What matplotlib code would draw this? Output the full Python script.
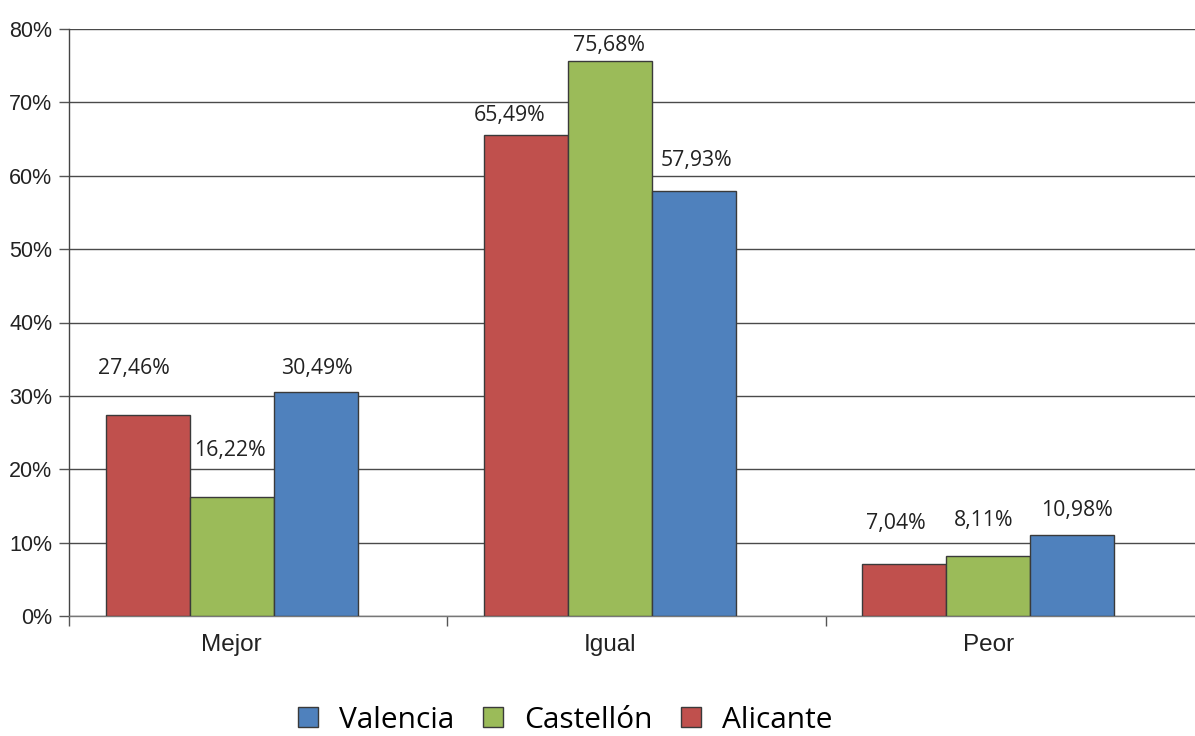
import numpy as np
import matplotlib.pyplot as plt
from matplotlib.patches import Patch
from matplotlib.ticker import FixedLocator

# data
categories = ["Mejor", "Igual", "Peor"]
alicante = [27.46, 65.49, 7.04]
castellon = [16.22, 75.68, 8.11]
valencia = [30.49, 57.93, 10.98]
series_names = ["Alicante", "Castellón", "Valencia"]
yticks = [0, 10, 20, 30, 40, 50, 60, 70, 80]

colors = ["#C0504D", "#9BBB59", "#4F81BD"]
edge = "#3a3a3a"

# label offsets in pixels (dx, dy) from the top centre of each bar
label_offsets = [
    [(-14, 46), (-2, 46), (1, 24)],
    [(-16, 20), (-1, 15), (2, 30)],
    [(-9, 41), (-5, 36), (5, 25)],
]

W, H = 1195, 736
fig = plt.figure(figsize=(W / 100, H / 100), dpi=100)
ax = fig.add_axes([69 / W, (H - 616) / H, (1204 - 69) / W, (616 - 29) / H])

bw = 0.222
start = 0.097
x = np.arange(len(categories))
all_series = [alicante, castellon, valencia]

for j, vals in enumerate(all_series):
    xpos = x + start + bw * (j + 0.5)
    ax.bar(xpos, vals, width=bw, color=colors[j], edgecolor=edge,
           linewidth=1.0, zorder=3)
    for i, v in enumerate(vals):
        dx, dy = label_offsets[i][j]
        ax.annotate(f"{v:.2f}%".replace(".", ","), (xpos[i], v),
                    xytext=(dx, dy), textcoords="offset pixels",
                    ha="center", va="center", fontsize=15.3,
                    family="Open Sans", color="#222222")

ax.set_xlim(0, 3)
ax.set_ylim(0, 80)

ax.set_yticks(yticks)
ax.set_yticklabels([f"{t}%" for t in yticks], family="Liberation Sans",
                   fontsize=15.5, color="#222222")
ax.yaxis.grid(True, color="#4a4a4a", linewidth=1.0, zorder=0)

centers = x + start + bw * 1.5
ax.set_xticks(centers)
ax.set_xticklabels(categories, family="Liberation Sans", fontsize=17.5,
                   color="#222222")
ax.xaxis.set_minor_locator(FixedLocator([0, 1, 2, 3]))
ax.tick_params(axis="x", which="major", length=0, pad=13)
ax.tick_params(axis="x", which="minor", length=7, width=1, color="#555555",
               direction="out")
ax.tick_params(axis="y", length=7, width=1, color="#555555", pad=5)

for s in ["top", "right"]:
    ax.spines[s].set_visible(False)
ax.spines["left"].set_color("#444444")
ax.spines["bottom"].set_color("#777777")
ax.spines["left"].set_linewidth(1.0)
ax.spines["bottom"].set_linewidth(1.0)
ax.set_axisbelow(True)

handles = [Patch(facecolor=colors[k], edgecolor=edge, linewidth=1.0)
           for k in [2, 1, 0]]
labels = [series_names[k] for k in [2, 1, 0]]
fig.legend(handles, labels, loc="center", bbox_to_anchor=(565 / W, 1 - 720 / H),
           ncol=3, frameon=False, prop={"family": "Open Sans", "size": 21.5},
           handlelength=0.68, handleheight=0.68, handletextpad=0.7,
           columnspacing=0.95, borderpad=0)

fig.savefig("out.png", dpi=100)
